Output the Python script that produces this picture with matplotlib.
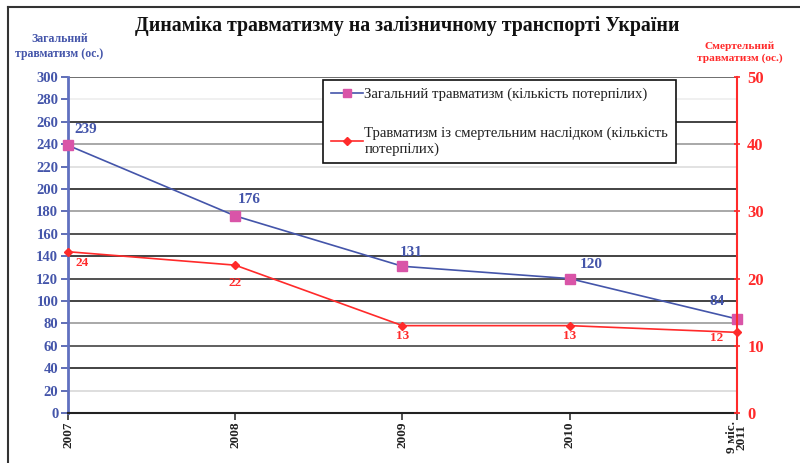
import matplotlib.pyplot as plt
from matplotlib.lines import Line2D

plt.rcParams['font.family'] = ['Liberation Serif', 'DejaVu Serif']

years = ['2007', '2008', '2009', '2010', '9 міс.\n2011']
total = [239, 176, 131, 120, 84]
fatal = [24, 22, 13, 13, 12]
left_ticks = list(range(0, 301, 20))
right_ticks = list(range(0, 51, 10))

blue = '#4455aa'
red = '#ff2a2a'
pink = '#d955a8'

fig = plt.figure(figsize=(8, 4.63), dpi=100)
ax = fig.add_axes([0.085, 0.108, 0.836, 0.7257])
ax2 = ax.twinx()

x = range(len(years))

# gridlines (the original has uneven darkness)
grid_colors = ['#000000', '#d8d8d8', '#222222', '#444444', '#999999', '#222222',
               '#333333', '#222222', '#333333', '#999999', '#222222', '#dddddd',
               '#999999', '#222222', '#eeeeee', '#555555']
for v, c in zip(left_ticks[1:], grid_colors[1:]):
    ax.axhline(v, color=c, lw=1.2, zorder=0)

ax.plot(x, total, color=blue, lw=1.2, marker='s', ms=7, mfc=pink, mec=pink, zorder=3, clip_on=False)
ax2.plot(x, fatal, color=red, lw=1.2, marker='D', ms=4, mfc=red, mec=red, zorder=3, clip_on=False)

ax.set_xlim(0, len(years) - 1)
ax.set_ylim(0, 300)
ax2.set_ylim(0, 50)
ax.set_yticks(left_ticks)
ax2.set_yticks(right_ticks)
ax.set_xticks(list(x))
ax.set_xticklabels(years, rotation=90, fontsize=9.5, fontweight='bold', color='#222222',
                   linespacing=0.8, va='top')

for lbl in ax.get_yticklabels():
    lbl.set_fontweight('bold')
ax.tick_params(axis='y', colors=blue, labelsize=10.5, length=5, width=1.2, pad=2)
ax.tick_params(axis='x', colors='#333333', length=5, width=1.2, pad=1)
for lbl in ax.get_xticklabels():
    lbl.set_color('#222222')
ax2.tick_params(axis='y', colors=red, labelsize=12, length=5, width=1.2, direction='inout', pad=5)
for lbl in ax2.get_yticklabels():
    lbl.set_fontweight('bold')

for s in ['top', 'right', 'left', 'bottom']:
    ax.spines[s].set_visible(False)
    ax2.spines[s].set_visible(False)
ax.spines['left'].set_visible(True)
ax.spines['left'].set_color('#6070c0')
ax.spines['left'].set_linewidth(2)
ax.spines['bottom'].set_visible(True)
ax.spines['bottom'].set_color('#222222')
ax.spines['bottom'].set_linewidth(1.5)
ax2.spines['right'].set_visible(True)
ax2.spines['right'].set_color(red)
ax2.spines['right'].set_linewidth(1.5)

# data labels
blue_off = [(18, 16), (14, 16), (9, 14), (22, 14), (-20, 17)]
red_off = [(14, -11), (0, -18), (0, -10), (0, -10), (-20, -6)]
for i, (v, o) in enumerate(zip(total, blue_off)):
    ax.annotate(str(v), (i, v), textcoords='offset pixels', xytext=o, ha='center', va='center',
                color=blue, fontsize=11, fontweight='bold', annotation_clip=False)
for i, (v, o) in enumerate(zip(fatal, red_off)):
    ax2.annotate(str(v), (i, v), textcoords='offset pixels', xytext=o, ha='center', va='center',
                 color=red, fontsize=9.5, fontweight='bold', annotation_clip=False)

fig.text(0.509, 0.943, 'Динаміка травматизму на залізничному транспорті України',
         ha='center', va='center', fontsize=14.3, fontweight='bold', color='#111111')
fig.text(0.074, 0.9, 'Загальний\nтравматизм (ос.)', ha='center', va='center',
         fontsize=8.5, fontweight='bold', color=blue, linespacing=1.3)
fig.text(0.925, 0.887, 'Смертельний\nтравматизм (ос.)', ha='center', va='center',
         fontsize=8.2, fontweight='bold', color=red, linespacing=1.3)

handles = [Line2D([], [], color=blue, lw=1.2, marker='s', ms=6, mfc=pink, mec=pink),
           Line2D([], [], color=red, lw=1.2, marker='D', ms=4, mfc=red, mec=red)]
labels = ['Загальний травматизм (кількість потерпілих)',
          'Травматизм із смертельним наслідком (кількість\nпотерпілих)']
leg = fig.legend(handles, labels, loc='upper left', bbox_to_anchor=(0.404, 0.827),
                 fontsize=10.6, frameon=True, fancybox=False, framealpha=1,
                 edgecolor='#111111', labelspacing=1.75, handlelength=2.2,
                 handletextpad=0.1, borderpad=0.5, borderaxespad=0)
leg.get_frame().set_linewidth(1.2)
for t in leg.get_texts():
    t.set_color('#222222')
    t.set_linespacing(1.2)

# outer frame (left and top edges only are visible)
fig.add_artist(Line2D([0.01, 0.01], [0, 0.985], color='#333333', lw=1.5))
fig.add_artist(Line2D([0.01, 1.0], [0.985, 0.985], color='#333333', lw=1.5))

fig.savefig('out.png', dpi=100)
